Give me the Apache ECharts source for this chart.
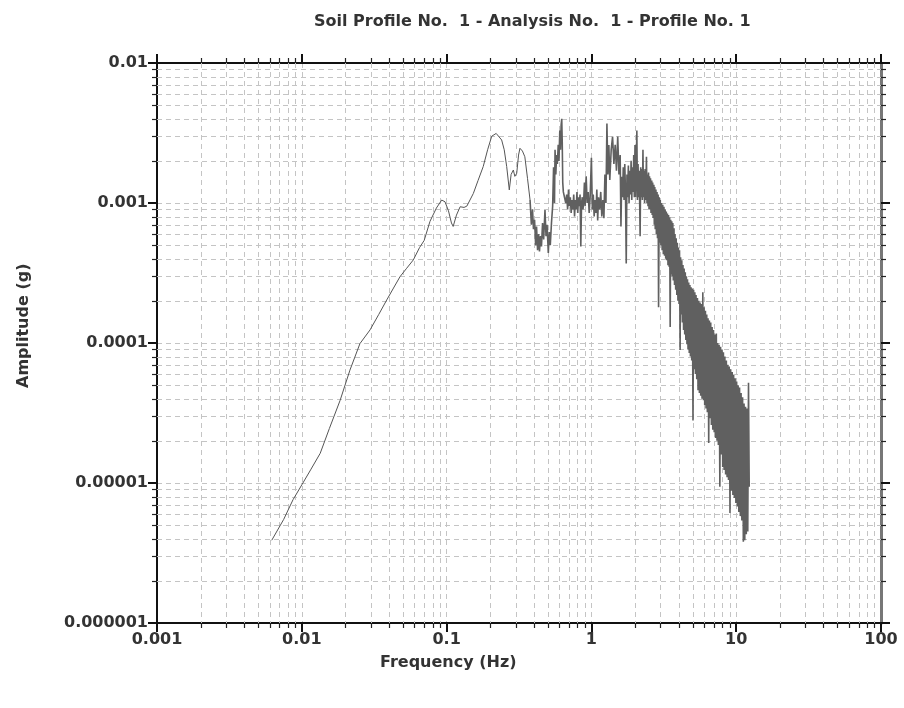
<!DOCTYPE html>
<html>
<head>
<meta charset="utf-8">
<script src="https://cdn.jsdelivr.net/npm/echarts@6/dist/echarts.min.js"></script>
<style>html,body{margin:0;padding:0;background:#fff;}#chart{width:904px;height:708px;}</style>
</head>
<body>
<div id="chart"></div>
<script>
// ---- Data ----
const titleText = 'Soil Profile No.  1 - Analysis No.  1 - Profile No. 1';
const xAxisName = 'Frequency (Hz)';
const yAxisName = 'Amplitude (g)';
const xTickLabels = ['0.001', '0.01', '0.1', '1', '10', '100'];
const yTickLabels = ['0.000001', '0.00001', '0.0001', '0.001', '0.01'];
const minorMultipliers = [2, 3, 4, 5, 6, 7, 8, 9];

// smooth low-frequency part
const freqLow = [0.0062,0.0075,0.0087,0.0100,0.0115,0.0134,0.0155,0.0184,0.0215,0.0252,0.0296,0.0340,0.0386,0.0430,0.0477,0.0530,0.0589,0.0650,0.0700,0.0768,0.0850,0.0925,0.0975,0.1030,0.1080,0.1110,0.1170,0.1240,0.1320,0.1380,0.1530,0.1650,0.1790,0.1920,0.2050,0.2200,0.2400,0.2500,0.2600,0.2710,0.2790,0.2890,0.2960,0.3050,0.3140,0.3210,0.3340,0.3470,0.3620,0.3770];
const ampLow = [3.9e-6,5.5e-6,7.6e-6,9.7e-6,1.24e-5,1.63e-5,2.45e-5,3.9e-5,6.4e-5,9.9e-5,1.24e-4,1.6e-4,2.03e-4,2.47e-4,2.98e-4,3.42e-4,3.92e-4,4.8e-4,5.4e-4,7.4e-4,9.2e-4,1.05e-3,1.02e-3,8.8e-4,7.2e-4,6.8e-4,8.2e-4,9.4e-4,9.3e-4,9.5e-4,1.17e-3,1.45e-3,1.82e-3,2.4e-3,3.0e-3,3.14e-3,2.82e-3,2.4e-3,1.82e-3,1.24e-3,1.6e-3,1.72e-3,1.55e-3,1.63e-3,2.2e-3,2.46e-3,2.35e-3,2.14e-3,1.5e-3,1.05e-3];

// noisy middle part
const freqMid = [0.3850,0.3920,0.3980,0.4050,0.4120,0.4180,0.4250,0.4320,0.4380,0.4450,0.4520,0.4600,0.4680,0.4780,0.4860,0.4940,0.5040,0.5120,0.5200,0.5300,0.5400,0.5480,0.5560,0.5610,0.5680,0.5750,0.5820,0.5900,0.5970,0.6050,0.6120,0.6180,0.6240,0.6290,0.6340,0.6400,0.655,0.665,0.675,0.685,0.695,0.705,0.715,0.725,0.735,0.745,0.755,0.765,0.775,0.785,0.795,0.805,0.815,0.825,0.835,0.845,0.855,0.865,0.875,0.885,0.895,0.905,0.92,0.935,0.95,0.965,0.98,1.00,1.015,1.03,1.045,1.06,1.075,1.09,1.105,1.12,1.14,1.16,1.18,1.20,1.22,1.24,1.26,1.28,1.30,1.32,1.34,1.37,1.40,1.43,1.46,1.49,1.52,1.55,1.58,1.60,1.62,1.64,1.66,1.68,1.70,1.72,1.74,1.76,1.78,1.80,1.82,1.84,1.86,1.88,1.90,1.92,1.94,1.96,1.98,2.00];
const ampMid = [7.0e-4,9.0e-4,6.5e-4,7.6e-4,5.0e-4,6.8e-4,4.6e-4,6.0e-4,4.5e-4,5.8e-4,4.9e-4,7.2e-4,5.5e-4,8.9e-4,5.8e-4,7.0e-4,4.4e-4,6.2e-4,5.0e-4,7.2e-4,9.5e-4,1.8e-3,1.0e-3,2.4e-3,1.6e-3,2.2e-3,1.9e-3,2.6e-3,2.0e-3,3.3e-3,2.4e-3,3.6e-3,4.0e-3,2.7e-3,1.4e-3,1.2e-3,1.2e-3,1.0e-3,1.15e-3,9.0e-4,1.25e-3,9.5e-4,1.1e-3,8.5e-4,1.05e-3,9.0e-4,1.15e-3,8.0e-4,1.05e-3,9.0e-4,1.2e-3,8.5e-4,1.1e-3,9.5e-4,1.15e-3,4.9e-4,1.0e-3,1.1e-3,9.0e-4,1.05e-3,1.4e-3,9.5e-4,1.55e-3,1.0e-3,1.2e-3,8.5e-4,1.1e-3,2.1e-3,9.0e-4,1.15e-3,8.0e-4,1.05e-3,8.5e-4,1.25e-3,7.5e-4,1.1e-3,9.0e-4,1.2e-3,8.0e-4,1.05e-3,7.8e-4,1.6e-3,1.0e-3,3.7e-3,1.6e-3,2.6e-3,1.46e-3,2.4e-3,2.98e-3,1.9e-3,2.6e-3,1.7e-3,2.98e-3,1.6e-3,2.2e-3,6.8e-4,1.54e-3,1.1e-3,1.8e-3,1.05e-3,1.9e-3,1.2e-3,3.7e-4,1.6e-3,1.1e-3,1.85e-3,1.0e-3,1.7e-3,1.15e-3,2.0e-3,1.05e-3,1.8e-3,1.2e-3,2.2e-3,1.1e-3,2.6e-3];

// dense high-frequency band
const freqHigh = [2.02,2.04,2.06,2.08,2.10,2.12,2.14,2.17,2.19,2.21,2.23,2.25,2.27,2.29,2.31,2.33,2.35,2.37,2.40,2.42,2.44,2.46,2.48,2.50,2.52,2.54,2.56,2.58,2.61,2.63,2.65,2.67,2.70,2.72,2.74,2.76,2.79,2.81,2.84,2.86,2.89,2.91,2.94,2.96,2.99,3.02,3.05,3.08,3.11,3.14,3.17,3.20,3.23,3.26,3.29,3.32,3.35,3.38,3.41,3.44,3.47,3.50,3.53,3.56,3.59,3.62,3.65,3.68,3.72,3.75,3.78,3.82,3.85,3.89,3.92,3.96,3.99,4.03,4.06,4.10,4.13,4.17,4.21,4.25,4.29,4.33,4.37,4.41,4.45,4.49,4.53,4.57,4.61,4.65,4.70,4.74,4.79,4.83,4.88,4.93,4.98,5.03,5.08,5.13,5.18,5.23,5.28,5.34,5.40,5.45,5.51,5.57,5.63,5.69,5.75,5.81,5.88,5.94,6.00,6.06,6.13,6.19,6.26,6.32,6.39,6.46,6.53,6.60,6.67,6.74,6.82,6.89,6.97,7.05,7.13,7.21,7.29,7.37,7.45,7.53,7.62,7.71,7.80,7.89,7.98,8.07,8.16,8.25,8.35,8.45,8.55,8.65,8.75,8.85,8.95,9.06,9.16,9.27,9.38,9.49,9.60,9.71,9.83,9.95,10.07,10.19,10.31,10.43,10.55,10.68,10.81,10.94,11.07,11.20,11.33,11.46,11.60,11.74,11.88,12.02,12.16,12.30];
const ampHigh = [1.1e-3,1.8e-3,3.3e-3,1.05e-3,1.9e-3,1.1e-3,1.7e-3,5.8e-4,1.8e-3,1.1e-3,1.75e-3,1.05e-3,2.4e-3,1.1e-3,1.7e-3,1.0e-3,1.75e-3,1.05e-3,2.14e-3,1.0e-3,1.6e-3,9.5e-4,1.65e-3,9.0e-4,1.55e-3,9.0e-4,1.5e-3,8.5e-4,1.45e-3,8.2e-4,1.4e-3,7.8e-4,1.35e-3,7.0e-4,1.3e-3,6.5e-4,1.25e-3,6.0e-4,1.2e-3,5.6e-4,1.15e-3,1.8e-4,1.1e-3,5.2e-4,1.05e-3,5.0e-4,1.0e-3,4.6e-4,9.7e-4,4.3e-4,9.4e-4,4.2e-4,9.0e-4,4.0e-4,8.7e-4,3.9e-4,8.4e-4,3.6e-4,8.2e-4,3.5e-4,7.9e-4,1.3e-4,7.6e-4,3.1e-4,7.4e-4,3.0e-4,7.2e-4,2.8e-4,6.6e-4,2.6e-4,6.0e-4,2.4e-4,5.6e-4,2.2e-4,5.2e-4,2.0e-4,4.8e-4,1.9e-4,4.6e-4,8.9e-5,4.1e-4,1.6e-4,3.9e-4,1.4e-4,3.6e-4,1.24e-4,3.4e-4,1.15e-4,3.2e-4,1.05e-4,3.0e-4,9.8e-5,2.85e-4,9.0e-5,2.7e-4,8.5e-5,2.6e-4,8.0e-5,2.5e-4,7.5e-5,2.45e-4,2.8e-5,2.4e-4,6.5e-5,2.3e-4,6.0e-5,2.2e-4,5.5e-5,2.1e-4,4.6e-5,2.0e-4,4.4e-5,1.95e-4,4.2e-5,1.9e-4,4.0e-5,2.3e-4,3.9e-5,1.8e-4,3.6e-5,1.7e-4,3.4e-5,1.6e-4,3.2e-5,1.5e-4,1.93e-5,1.45e-4,2.9e-5,1.4e-4,2.6e-5,1.3e-4,2.4e-5,1.24e-4,2.3e-5,1.15e-4,2.1e-5,1.17e-4,2.0e-5,1.0e-4,1.87e-5,9.7e-5,9.4e-6,9.4e-5,1.6e-5,9.0e-5,1.3e-5,8.6e-5,1.24e-5,8.0e-5,1.15e-5,7.5e-5,1.1e-5,7.0e-5,1.05e-5,6.8e-5,6.1e-6,6.5e-5,8.8e-6,6.2e-5,8.2e-6,5.9e-5,7.8e-6,5.6e-5,7.2e-6,5.3e-5,6.8e-6,5.0e-5,6.2e-6,4.8e-5,5.8e-6,4.4e-5,5.4e-6,4.1e-5,3.8e-6,3.7e-5,3.9e-6,3.5e-5,4.3e-6,3.4e-5,4.5e-6,5.2e-5,9.4e-6];

// ---- Build chart ----
const X_MIN = 0.001, X_MAX = 100, Y_MIN = 0.000001, Y_MAX = 0.01;
const smoothData = freqLow.map((f, i) => [f, ampLow[i]]);
const noisyFreq = [freqLow[freqLow.length - 1]].concat(freqMid, freqHigh);
const noisyAmp = [ampLow[ampLow.length - 1]].concat(ampMid, ampHigh);
const noisyData = noisyFreq.map((f, i) => [f, noisyAmp[i]]);

function minorValues(min, max) {
  const out = [];
  for (let k = Math.round(Math.log10(min)); k < Math.round(Math.log10(max)); k++) {
    minorMultipliers.forEach(m => out.push(m * Math.pow(10, k)));
  }
  return out;
}
const minorX = minorValues(X_MIN, X_MAX);
const minorY = minorValues(Y_MIN, Y_MAX);

const gridColor = '#c4c4c4';
const dash = [5, 4];
const txt = '#333';
const font = 'DejaVu Sans';
const fs = 16;
const GRID = { left: 157, right: 23, top: 63, bottom: 85 };

// pixel positions captured from the axes' own scales while rendering
const minorXPix = [], minorYPix = [];
let plotRect = null;

function renderMinorX(params, api) {
  const cs = params.coordSys;
  plotRect = { x: cs.x, y: cs.y, w: cs.width, h: cs.height };
  const x = Math.round(api.coord([api.value(0), Y_MIN])[0]) + 0.5;
  minorXPix[params.dataIndex] = x;
  return { type: 'line', shape: { x1: x, y1: cs.y, x2: x, y2: cs.y + cs.height },
           style: { stroke: gridColor, lineWidth: 1, lineDash: dash } };
}
function renderMinorY(params, api) {
  const cs = params.coordSys;
  const y = Math.round(api.coord([X_MIN, api.value(0)])[1]) + 0.5;
  minorYPix[params.dataIndex] = y;
  return { type: 'line', shape: { x1: cs.x, y1: y, x2: cs.x + cs.width, y2: y },
           style: { stroke: gridColor, lineWidth: 1, lineDash: dash } };
}

const chart = echarts.init(document.getElementById('chart'), null, { renderer: 'canvas' });
const xLab = v => xTickLabels[Math.round(Math.log10(v)) + 3] || '';
const yLab = v => yTickLabels[Math.round(Math.log10(v)) + 6] || '';

const commonX = { type: 'log', logBase: 10, min: X_MIN, max: X_MAX };
const commonY = { type: 'log', logBase: 10, min: Y_MIN, max: Y_MAX };

chart.setOption({
  animation: false,
  title: {
    text: titleText, left: 309, top: 9,
    textStyle: { fontFamily: font, fontSize: fs, fontWeight: 'bold', color: txt }
  },
  grid: GRID,
  xAxis: [
    Object.assign({}, commonX, {
      position: 'bottom',
      axisLine: { lineStyle: { color: '#111', width: 2 } },
      axisTick: { inside: false, length: 9, lineStyle: { color: '#111', width: 2 } },
      axisLabel: { formatter: xLab, margin: 9, fontFamily: font, fontSize: fs, fontWeight: 'bold', color: txt },
      splitLine: { show: true, lineStyle: { color: gridColor, type: dash, width: 1 } }
    }),
    Object.assign({}, commonX, {
      position: 'top',
      axisLine: { lineStyle: { color: '#111', width: 2 } },
      axisTick: { inside: false, length: 9, lineStyle: { color: '#111', width: 2 } },
      axisLabel: { show: false },
      splitLine: { show: false }
    })
  ],
  yAxis: [
    Object.assign({}, commonY, {
      position: 'left',
      axisLine: { lineStyle: { color: '#111', width: 2 } },
      axisTick: { inside: false, length: 9, lineStyle: { color: '#111', width: 2 } },
      axisLabel: { formatter: yLab, margin: 9, fontFamily: font, fontSize: fs, fontWeight: 'bold', color: txt },
      splitLine: { show: true, lineStyle: { color: gridColor, type: dash, width: 1 } }
    }),
    Object.assign({}, commonY, {
      position: 'right',
      axisLine: { lineStyle: { color: '#777', width: 3 } },
      axisTick: { inside: false, length: 9, lineStyle: { color: '#111', width: 2 } },
      axisLabel: { show: false },
      splitLine: { show: false }
    })
  ],
  series: [
    { type: 'custom', xAxisIndex: 0, yAxisIndex: 0, data: minorX.map(v => [v]), renderItem: renderMinorX, z: 1, silent: true },
    { type: 'custom', xAxisIndex: 0, yAxisIndex: 0, data: minorY.map(v => [v]), renderItem: renderMinorY, z: 1, silent: true },
    {
      type: 'line', xAxisIndex: 0, yAxisIndex: 0, data: smoothData,
      symbol: 'none', showSymbol: false, z: 5,
      lineStyle: { color: '#555', width: 1 }
    },
    {
      type: 'line', xAxisIndex: 0, yAxisIndex: 0, data: noisyData,
      symbol: 'none', showSymbol: false, z: 5,
      lineStyle: { color: '#606060', width: 1.6 }
    }
  ]
});

// plot edges: from the rendered coordinate system, falling back to the grid layout
const W = 904, H = 708;
const pr = plotRect || { x: GRID.left, y: GRID.top, w: W - GRID.left - GRID.right, h: H - GRID.top - GRID.bottom };
const gLeft = pr.x, gTop = pr.y, gRight = pr.x + pr.w, gBot = pr.y + pr.h;

// fall back to the library's own conversion if positions were not captured
let xs = minorXPix.filter(v => isFinite(v));
let ys = minorYPix.filter(v => isFinite(v));
if (xs.length === 0) xs = minorX.map(v => Number(chart.convertToPixel({ xAxisIndex: 0 }, v)));
if (ys.length === 0) ys = minorY.map(v => Number(chart.convertToPixel({ yAxisIndex: 0 }, v)));

const gEls = [
  { type: 'text', left: 380, top: 655, style: { text: xAxisName, fontFamily: font, fontSize: fs, fontWeight: 'bold', fill: txt } },
  { type: 'text', x: 16, y: 388, rotation: Math.PI / 2, style: { text: yAxisName, fontFamily: font, fontSize: fs, fontWeight: 'bold', fill: txt } }
];
function tickLine(x1, y1, x2, y2) {
  return { type: 'line', zlevel: 1, z: 50, shape: { x1: x1, y1: y1, x2: x2, y2: y2 },
           style: { stroke: '#222', lineWidth: 1.2 } };
}
xs.forEach(px => {
  if (!isFinite(px)) return;
  gEls.push(tickLine(px, gBot, px, gBot + 5));
  gEls.push(tickLine(px, gTop, px, gTop - 5));
});
ys.forEach(py => {
  if (!isFinite(py)) return;
  gEls.push(tickLine(gLeft, py, gLeft - 5, py));
  gEls.push(tickLine(gRight, py, gRight + 5, py));
});
chart.setOption({ graphic: gEls });
</script>
</body>
</html>
